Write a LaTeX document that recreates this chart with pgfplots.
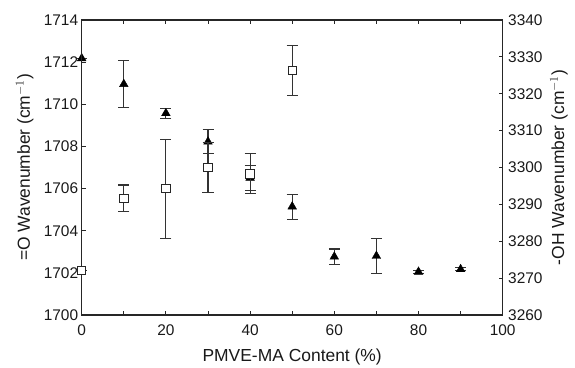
\documentclass[border=0pt]{standalone}
\usepackage{fontspec}
\setmainfont{Liberation Sans}
\usepackage{pgfplots}
\pgfplotsset{compat=1.18}
\begin{document}
\begin{tikzpicture}
\useasboundingbox (-81.7bp,-53bp) rectangle (493.3bp,315bp);
\pgfplotsset{
  common/.style={
    width=421bp, height=295bp, scale only axis,
    xmin=0, xmax=100,
    clip=false,
    tick align=inside,
    major tick length=4bp, minor tick length=4bp,
    axis line style={line width=1.3pt, black!85},
    every tick/.style={line width=0.9pt, black!85},
    tick label style={font=\fontsize{15.5}{18}\selectfont, text=black!90},
    label style={font=\fontsize{17.5}{20}\selectfont, text=black!90},
    /pgf/number format/assume math mode=true,
    /pgf/number format/1000 sep={},
    scaled ticks=false,
  },
  ebar/.style={error bars/.cd, y dir=both, y explicit,
    error bar style={line width=1.1pt, black!80},
    error mark options={rotate=90, mark size=5.5bp, line width=1.1pt, black!80}},
}
% right axis (triangles)
\begin{axis}[common,
  axis y line*=right, axis x line=none,
  ymin=3260, ymax=3340, ytick distance=10,
  yticklabel style={xshift=2bp},
  ylabel={-OH Wavenumber (cm$^{-1}$)},
  ylabel style={at={(axis description cs:1.1337,0.5)}, anchor=center, rotate=0},
]
\addplot[only marks, mark=triangle*, mark size=5bp, black, mark options={fill=black}, ebar]
coordinates {
(0,3329.6) +- (0,0)
(10,3322.6) +- (0,6.3)
(20,3314.7) +- (0,1.35)
(30,3307.0) +- (0,3.3)
(40,3297.2) +- (0,3.4)
(50,3289.4) +- (0,3.4)
(60,3275.8) +- (0,2.1)
(70,3276.0) +- (0,4.7)
(80,3271.7) +- (0,0.4)
(90,3272.4) +- (0,0.4)
};
\end{axis}
% left axis (squares)
\begin{axis}[common,
  ymin=1700, ymax=1714, ytick distance=2,
  xtick={0,20,...,100}, minor xtick={10,30,...,90},
  xtick pos=both, ytick pos=left,
  xticklabel style={yshift=-6bp},
  xlabel={PMVE-MA Content (\%)},
  xlabel style={at={(axis description cs:0.5,-0.1424)}, anchor=center},
  ylabel={=O Wavenumber (cm$^{-1}$)},
  ylabel style={at={(axis description cs:-0.1354,0.5)}, anchor=center, rotate=0},
]
\addplot[only marks, mark=square*, mark size=4.2bp, black!85, mark options={fill=white, line width=1pt}, ebar]
coordinates {
(0,1702.1) +- (0,0)
(10,1705.54) +- (0,0.63)
(20,1706.0) +- (0,2.35)
(30,1707.0) +- (0,1.2)
(40,1706.7) +- (0,0.95)
(50,1711.6) +- (0,1.2)
};
\end{axis}
\end{tikzpicture}
\end{document}
